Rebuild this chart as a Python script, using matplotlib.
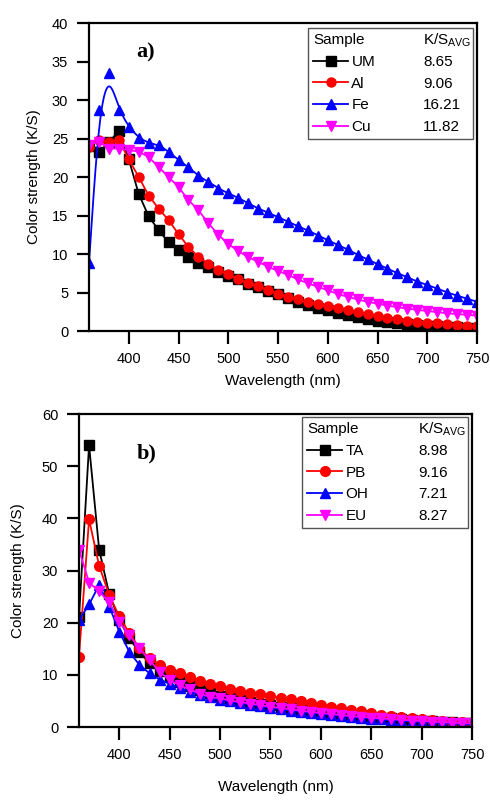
import numpy as np
import matplotlib
matplotlib.use("Agg")
import matplotlib.pyplot as plt

plt.rcParams['font.family'] = ['Liberation Sans', 'DejaVu Sans']

# wavelength grid (nm), one point every 10 nm
wl = np.arange(360, 751, 10)

# panel a)
um = [24.0, 23.2, 24.5, 26.0, 22.3, 17.8, 14.9, 13.1, 11.5, 10.5,
      9.65, 8.9, 8.35, 7.7, 7.2, 6.7, 6.1, 5.7, 5.2, 4.75,
      4.3, 3.8, 3.4, 3.0, 2.7, 2.4, 2.1, 1.8, 1.6, 1.35,
      1.2, 1.0, 0.9, 0.8, 0.7, 0.6, 0.55, 0.5, 0.45, 0.4]
al = [23.9, 24.8, 24.6, 24.8, 22.3, 20.0, 17.6, 15.9, 14.4, 12.6,
      10.9, 9.65, 8.7, 7.9, 7.35, 6.7, 6.25, 5.8, 5.3, 4.85,
      4.45, 4.1, 3.8, 3.5, 3.2, 2.95, 2.7, 2.45, 2.2, 1.95,
      1.7, 1.5, 1.3, 1.2, 1.1, 1.0, 0.9, 0.8, 0.7, 0.65]
fe = [8.8, 28.7, 33.5, 28.7, 26.5, 25.1, 24.4, 24.2, 23.3, 22.2,
      21.3, 20.1, 19.4, 18.5, 17.9, 17.3, 16.6, 15.9, 15.4, 14.8,
      14.2, 13.6, 13.1, 12.4, 11.8, 11.2, 10.6, 9.9, 9.3, 8.7,
      8.1, 7.5, 7.0, 6.4, 6.0, 5.5, 5.0, 4.6, 4.2, 3.8]
cu = [24.2, 24.6, 23.7, 23.7, 23.5, 23.3, 22.6, 21.3, 20.0, 18.7,
      17.0, 15.7, 14.0, 12.5, 11.3, 10.4, 9.6, 9.0, 8.35, 7.8,
      7.3, 6.7, 6.2, 5.75, 5.3, 4.8, 4.45, 4.1, 3.8, 3.55,
      3.3, 3.1, 2.9, 2.75, 2.6, 2.45, 2.3, 2.2, 2.1, 2.0]
names_a = ["UM", "Al", "Fe", "Cu"]
ks_a = ["8.65", "9.06", "16.21", "11.82"]

# panel b)
ta = [21.0, 54.0, 34.0, 25.5, 20.5, 17.0, 14.3, 12.3, 10.8, 9.6,
      8.6, 7.8, 7.1, 6.5, 6.0, 5.6, 5.2, 4.85, 4.5, 4.2,
      3.9, 3.6, 3.35, 3.1, 2.9, 2.7, 2.5, 2.3, 2.1, 1.95,
      1.8, 1.65, 1.5, 1.4, 1.25, 1.15, 1.05, 0.95, 0.85, 0.75]
pb = [13.5, 39.8, 30.9, 25.3, 21.2, 18.0, 15.1, 13.2, 11.9, 10.9,
      10.3, 9.5, 8.9, 8.3, 7.8, 7.3, 6.9, 6.6, 6.3, 5.9,
      5.6, 5.3, 4.9, 4.6, 4.3, 3.9, 3.6, 3.3, 3.0, 2.7,
      2.4, 2.1, 1.9, 1.7, 1.5, 1.3, 1.2, 1.0, 0.9, 0.8]
oh = [20.5, 23.5, 27.2, 23.1, 18.3, 14.4, 11.9, 10.3, 9.1, 8.3,
      7.5, 6.8, 6.2, 5.7, 5.2, 4.9, 4.6, 4.3, 4.0, 3.7,
      3.4, 3.15, 2.9, 2.7, 2.5, 2.3, 2.1, 1.9, 1.75, 1.6,
      1.45, 1.3, 1.2, 1.05, 0.95, 0.85, 0.75, 0.65, 0.6, 0.5]
eu = [34.0, 27.7, 26.0, 23.9, 20.2, 17.6, 15.1, 12.8, 10.6, 9.0,
      8.0, 7.2, 6.4, 5.8, 5.5, 5.1, 4.8, 4.5, 4.2, 3.9,
      3.65, 3.4, 3.15, 2.9, 2.7, 2.5, 2.3, 2.1, 1.95, 1.8,
      1.65, 1.5, 1.4, 1.25, 1.15, 1.05, 0.95, 0.85, 0.75, 0.7]
names_b = ["TA", "PB", "OH", "EU"]
ks_b = ["8.98", "9.16", "7.21", "8.27"]

colors = ["black", "red", "blue", "magenta"]
markers = ["s", "o", "^", "v"]


def smooth_line(x, y, sigma=4.5, step=0.5):
    # gaussian smoothed line through the points (odd reflection at the ends)
    xf = np.arange(x[0], x[-1] + step / 2, step)
    yf = np.interp(xf, x, y)
    s = sigma / step
    n = int(3 * s)
    k = np.exp(-0.5 * (np.arange(-n, n + 1) / s) ** 2)
    k /= k.sum()
    left = 2 * yf[0] - yf[1:n + 1][::-1]
    right = 2 * yf[-1] - yf[-n - 1:-1][::-1]
    ys = np.convolve(np.concatenate([left, yf, right]), k, mode="valid")
    return xf, ys


def style_axes(ax, ymax, ystep, ypad, xpad):
    ax.set_xlim(360, 750)
    ax.set_ylim(0, ymax)
    ax.set_xticks(np.arange(400, 751, 50))
    ax.set_yticks(np.arange(0, ymax + 1, ystep))
    for sp in ax.spines.values():
        sp.set_linewidth(1.6)
    ax.tick_params(direction="out", length=9, width=1.6, labelsize=10.5,
                   pad=6, top=False, right=False)
    ax.set_xlabel("Wavelength (nm)", fontsize=11, labelpad=xpad)
    ax.set_ylabel("Color strength (K/S)", fontsize=11, labelpad=ypad)


def add_legend(ax, fig, handles, names, values, box, valx):
    leg = ax.legend(handles, names, loc="upper left", bbox_to_anchor=box,
                    mode="expand", title="Sample", alignment="left",
                    fontsize=11, title_fontsize=11, frameon=True,
                    fancybox=False, edgecolor="#555555", framealpha=1,
                    handlelength=2.3, handletextpad=0.2, labelspacing=0.5,
                    borderpad=0.35, borderaxespad=0)
    leg.get_frame().set_linewidth(1.0)
    leg.set_zorder(5)
    fig.canvas.draw()
    inv = ax.transAxes.inverted()
    tb = leg.get_title().get_window_extent()
    ty = inv.transform(((tb.x0 + tb.x1) / 2, (tb.y0 + tb.y1) / 2))[1]
    ax.text(valx, ty, r"K/S$_{\mathregular{AVG}}$", transform=ax.transAxes,
            fontsize=11, va="center", ha="left", zorder=10)
    for t, v in zip(leg.get_texts(), values):
        b = t.get_window_extent()
        y = inv.transform(((b.x0 + b.x1) / 2, (b.y0 + b.y1) / 2))[1]
        ax.text(valx, y, v, transform=ax.transAxes, fontsize=11,
                va="center", ha="left", zorder=10)


fig = plt.figure(figsize=(4.9, 8), dpi=100)
ax1 = fig.add_axes([0.1816, 0.5862, 0.7919, 0.3850])
ax2 = fig.add_axes([0.1612, 0.0912, 0.8021, 0.3913])

# panel a
hs = []
for i, ys in enumerate([um, al, fe, cu]):
    if names_a[i] == "Fe":
        xs, yl = smooth_line(wl, ys)
        ax1.plot(xs, yl, color=colors[i], lw=1.3)
        ax1.plot(wl, ys, ls="none", marker=markers[i], color=colors[i], ms=6.5)
    else:
        ax1.plot(wl, ys, color=colors[i], lw=1.3, marker=markers[i], ms=6.5)
    hs.append(plt.Line2D([], [], color=colors[i], lw=1.3, marker=markers[i], ms=6.5))
style_axes(ax1, 40, 5, 8, 6)
ax1.text(0.122, 0.906, "a)", transform=ax1.transAxes, fontsize=16,
         fontweight="bold", family="Liberation Serif", va="center")
add_legend(ax1, fig, hs, names_a, ks_a, (0.564, 0.662, 0.426, 0.322), 0.861)

# panel b
hs = []
for i, ys in enumerate([ta, pb, oh, eu]):
    ax2.plot(wl, ys, color=colors[i], lw=1.3, marker=markers[i], ms=7)
    hs.append(plt.Line2D([], [], color=colors[i], lw=1.3, marker=markers[i], ms=7))
style_axes(ax2, 60, 10, 12, 13)
ax2.text(0.146, 0.875, "b)", transform=ax2.transAxes, fontsize=16,
         fontweight="bold", family="Liberation Serif", va="center")
add_legend(ax2, fig, hs, names_b, ks_b, (0.567, 0.639, 0.423, 0.351), 0.863)

fig.savefig("out.png", dpi=100)
